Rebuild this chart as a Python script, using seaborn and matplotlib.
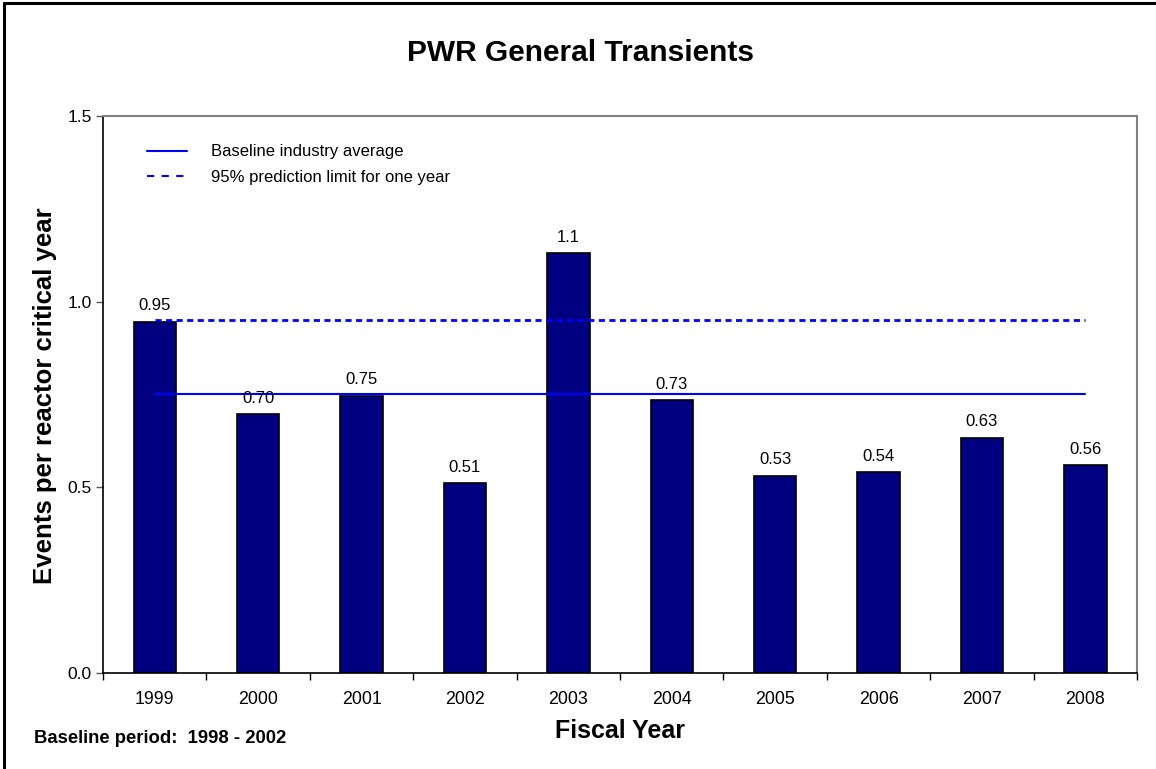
import matplotlib
matplotlib.use("Agg")
import matplotlib.pyplot as plt
from matplotlib.lines import Line2D
from matplotlib.ticker import FixedLocator
import seaborn as sns
import pandas as pd

# Fiscal-year event rates
years = ["1999", "2000", "2001", "2002", "2003", "2004", "2005", "2006", "2007", "2008"]
rates = [0.946, 0.697, 0.747, 0.511, 1.13, 0.734, 0.531, 0.541, 0.634, 0.559]
baseline_avg = 0.75
prediction_limit = 0.95
y_ticks = [0.0, 0.5, 1.0, 1.5]

sns.set_style("white")
plt.rcParams["font.family"] = ["Liberation Sans", "DejaVu Sans"]
plt.rcParams["text.color"] = "black"
plt.rcParams["xtick.color"] = "black"
plt.rcParams["ytick.color"] = "black"

df = pd.DataFrame({"year": years, "rate": rates})

fig = plt.figure(figsize=(11.56, 7.69), dpi=100)
ax = fig.add_axes([0.0891, 0.1248, 0.8945, 0.7244])

sns.barplot(data=df, x="year", y="rate", ax=ax, color="#000080",
            saturation=1, width=0.41, edgecolor="black", linewidth=1.2)

# Reference lines span from the first to the last bar centre
n = len(years)
ax.plot([0, n - 1], [baseline_avg] * 2, color="#0000ff", lw=1.5, zorder=3)
ax.plot([0, n - 1], [prediction_limit] * 2, color="#0000ff", lw=2,
        linestyle=(0, (2.2, 1.6)), zorder=3)

# Value labels above bars
ax.bar_label(ax.containers[0], labels=[format(v, "#.2g") for v in rates],
             padding=6, fontsize=12, color="black")

ax.set_ylim(0, 1.5)
ax.set_xlim(-0.5, n - 0.5)
ax.set_yticks(y_ticks)
ax.set_yticklabels([f"{t:.1f}" for t in y_ticks], fontsize=12.5)
ax.tick_params(axis="y", direction="out", length=5, width=1, color="#555555",
               left=True, pad=3, labelcolor="black")
ax.tick_params(axis="x", which="major", length=0, labelsize=12.8, pad=13,
               labelcolor="black")
ax.xaxis.set_minor_locator(FixedLocator([i - 0.5 for i in range(n + 1)]))
ax.tick_params(axis="x", which="minor", direction="out", length=5, width=1,
               bottom=True, color="black")

for side in ["left", "bottom"]:
    ax.spines[side].set_color("black")
    ax.spines[side].set_linewidth(1.2)
for side in ["top", "right"]:
    ax.spines[side].set_color("#808080")
    ax.spines[side].set_linewidth(1.5)

ax.set_xlabel("")
ax.set_ylabel("")
fig.text(0.5365, 0.049, "Fiscal Year", ha="center", va="center",
         fontsize=18, fontweight="bold")
fig.text(0.039, 0.486, "Events per reactor critical year", ha="center",
         va="center", rotation=90, fontsize=18.5, fontweight="bold")
fig.text(0.5025, 0.931, "PWR General Transients", ha="center", va="center",
         fontsize=21.5, fontweight="bold")
fig.text(0.029, 0.040, "Baseline period:  1998 - 2002", ha="left",
         va="center", fontsize=13.3, fontweight="bold")

handles = [
    Line2D([], [], color="#0000ff", lw=1.5),
    Line2D([], [], color="#0000ff", lw=1.5, linestyle=(0, (3.5, 3.5))),
]
ax.legend(handles, ["Baseline industry average",
                    "95% prediction limit for one year"],
          loc="upper left", bbox_to_anchor=(0.028, 0.976), frameon=False,
          fontsize=12, handlelength=2.4, handletextpad=1.45,
          labelspacing=0.62)

# Page frame along the top and left edges
fig.add_artist(Line2D([0.0035, 0.0035], [0, 0.996], color="black", lw=2.2,
                      transform=fig.transFigure))
fig.add_artist(Line2D([0.0035, 1], [0.996, 0.996], color="black", lw=2.2,
                      transform=fig.transFigure))

fig.savefig("out.png", dpi=100)
